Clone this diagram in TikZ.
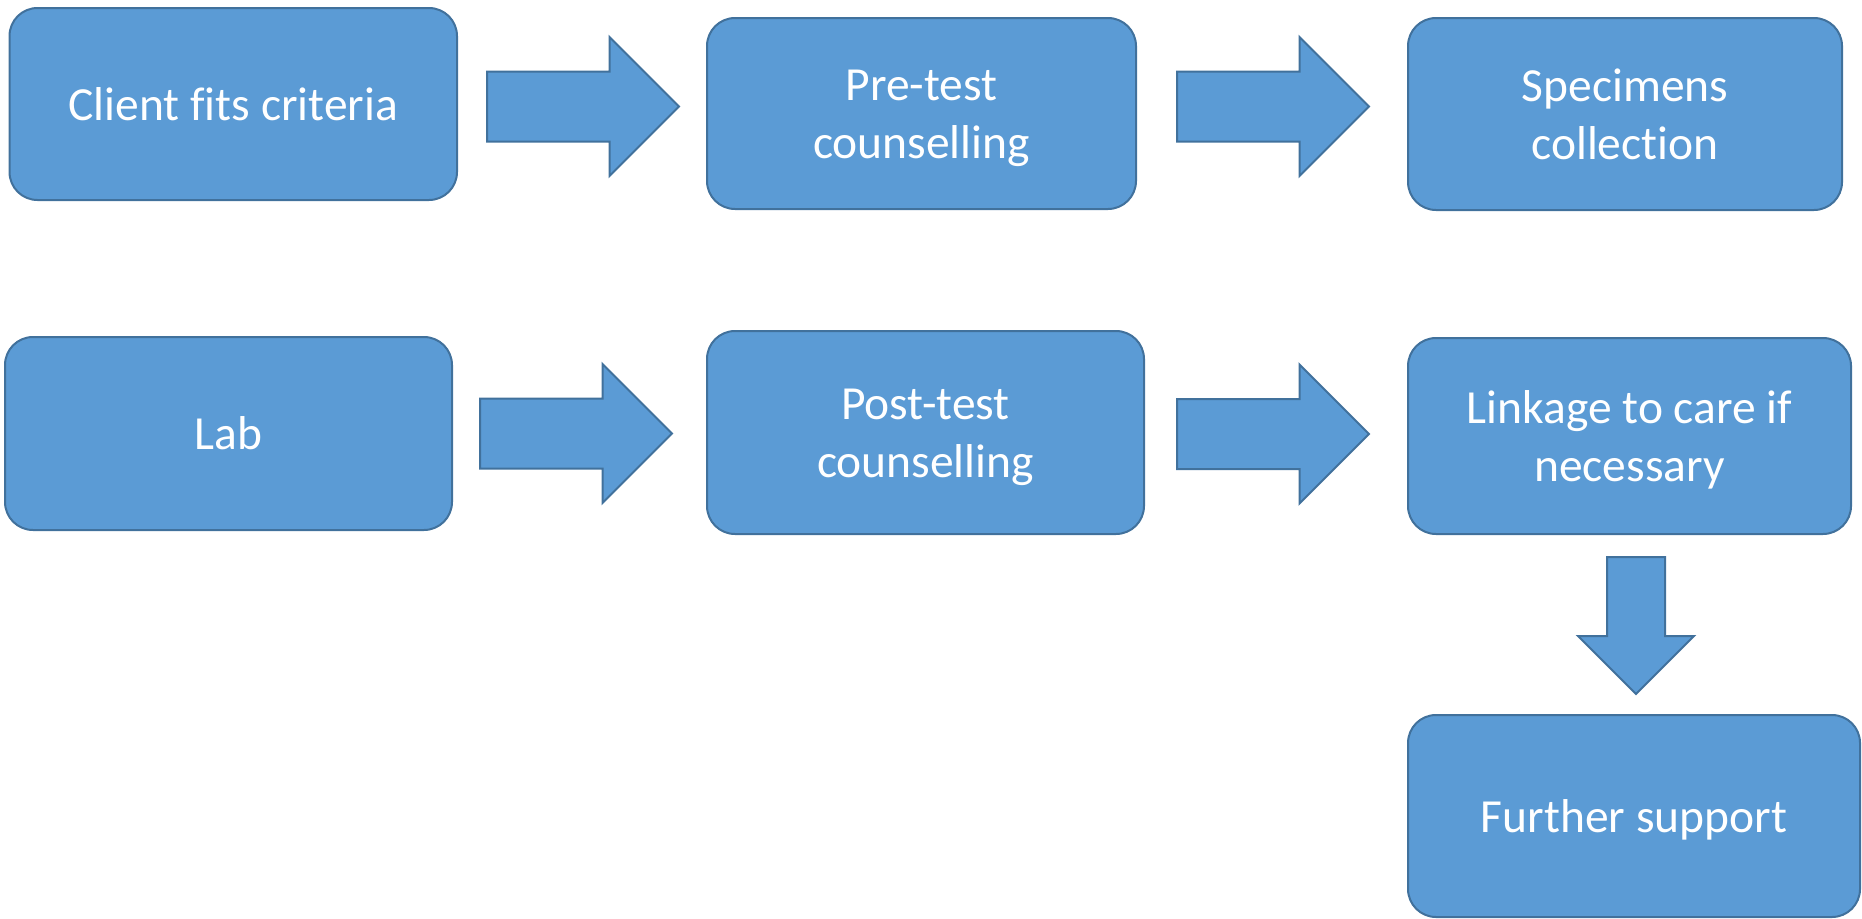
\documentclass[tikz,border=0pt]{standalone}
\usepackage{fontspec}
\setmainfont[Ligatures={NoCommon,NoContextual}]{Carlito}
\usetikzlibrary{shapes.arrows}
\definecolor{boxfill}{HTML}{5B9BD5}
\definecolor{boxline}{HTML}{41719C}
\newcommand\lnstrut{\rule[-12.5pt]{0pt}{57.5pt}}
\tikzset{
  box/.style={rectangle, rounded corners=28pt, draw=boxline, fill=boxfill,
    line width=2pt, text=white, align=center, inner sep=0pt,
    font=\fontsize{47.5}{58}\selectfont},
  blockarrow/.style={single arrow, draw=boxline, fill=boxfill, line width=2pt,
    inner xsep=0pt, single arrow tip angle=90, anchor=tail},
  rarrow/.style={blockarrow, minimum height=192pt, inner ysep=34pt,
    single arrow head extend=34.5pt},
  darrow/.style={blockarrow, minimum height=137pt, inner ysep=28pt,
    single arrow head extend=29pt, rotate=-90}
}
\begin{document}
\begin{tikzpicture}[x=1pt,y=-1pt]
\useasboundingbox (0,0) rectangle (1862,918);
\node[box, minimum width=447.5pt, minimum height=192pt] (A) at (233.25,104) {\lnstrut Client f\kern0pt its criteria};
\node[box, minimum width=429pt, minimum height=191pt] (B) at (921.5,113.5) {\lnstrut Pre-test\\\lnstrut counselling};
\node[box, minimum width=434pt, minimum height=192pt] (C) at (1625,114) {\lnstrut Specimens\\\lnstrut collection};
\node[box, minimum width=447pt, minimum height=193pt] (D) at (228.5,433.5) {\lnstrut Lab};
\node[box, minimum width=437pt, minimum height=203pt] (E) at (925.5,432.5) {\lnstrut Post-test\\\lnstrut counselling};
\node[box, minimum width=443pt, minimum height=196pt] (F) at (1629.5,436) {\lnstrut Linkage to care if\\\lnstrut necessary};
\node[box, minimum width=452pt, minimum height=202pt] (G) at (1634,816) {\lnstrut Further support};
\node[rarrow] (a1) at (486,106.5) {};
\node[rarrow] (a2) at (1176,106.5) {};
\node[rarrow] (a3) at (479,433.5) {};
\node[rarrow] (a4) at (1176,434) {};
\node[darrow] (a5) at (1636,556) {};
\end{tikzpicture}
\end{document}
